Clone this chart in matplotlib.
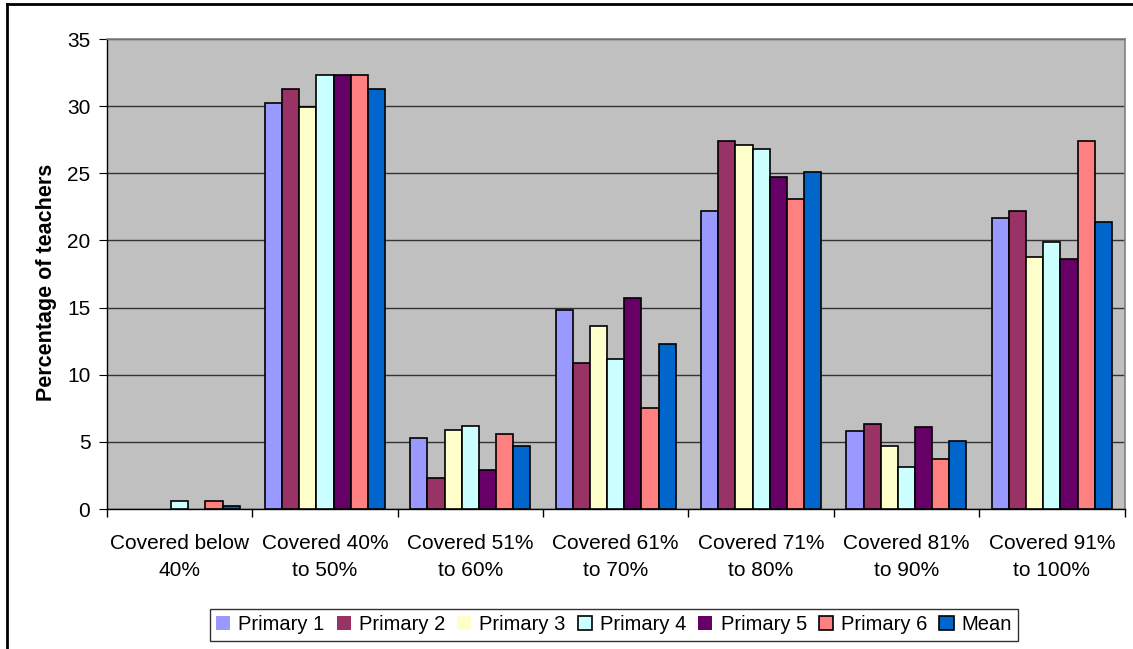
import numpy as np
import matplotlib.pyplot as plt
from matplotlib.lines import Line2D

plt.rcParams['font.family'] = ['Liberation Sans', 'DejaVu Sans']

categories = ["Covered below\n40%", "Covered 40%\nto 50%", "Covered 51%\nto 60%",
              "Covered 61%\nto 70%", "Covered 71%\nto 80%", "Covered 81%\nto 90%",
              "Covered 91%\nto 100%"]
series_names = ["Primary 1", "Primary 2", "Primary 3", "Primary 4", "Primary 5", "Primary 6", "Mean"]

primary1 = [0.0, 30.2, 5.3, 14.8, 22.2, 5.8, 21.7]
primary2 = [0.0, 31.3, 2.3, 10.9, 27.4, 6.3, 22.2]
primary3 = [0.0, 29.9, 5.9, 13.6, 27.1, 4.7, 18.8]
primary4 = [0.6, 32.3, 6.2, 11.2, 26.8, 3.1, 19.9]
primary5 = [0.0, 32.3, 2.9, 15.7, 24.7, 6.1, 18.6]
primary6 = [0.6, 32.3, 5.6, 7.5, 23.1, 3.7, 27.4]
mean = [0.25, 31.3, 4.7, 12.3, 25.1, 5.1, 21.4]

colors = ["#9999FF", "#993366", "#FFFFCC", "#CCFFFF", "#660066", "#FF8080", "#0066CC"]
all_series = [primary1, primary2, primary3, primary4, primary5, primary6, mean]

fig = plt.figure(figsize=(11.33, 6.49), dpi=100)
ax = fig.add_axes([0.0944, 0.2157, 0.9985 - 0.0944 - 0.006, 0.9399 - 0.2157])
ax.set_facecolor("#C0C0C0")

x = np.arange(len(categories))
width = 0.826 / len(all_series)
for i, (vals, col, name) in enumerate(zip(all_series, colors, series_names)):
    vals = np.array(vals)
    offs = (i - (len(all_series) - 1) / 2) * width
    # zero-height bars get no outline
    lw = np.where(vals > 0, 1.2, 0.0)
    ax.bar(x + offs, vals, width, color=col, edgecolor="black", linewidth=lw,
           label=name, zorder=3)

ax.set_xlim(-0.5, len(categories) - 0.5)
ax.set_ylim(0, 35)
ax.set_yticks(range(0, 36, 5))
ax.yaxis.grid(True, color="#333333", linewidth=1.0, zorder=0)
ax.set_axisbelow(True)

ax.set_xticks(x)
ax.set_xticklabels(categories, fontsize=15, linespacing=1.5)
ax.set_xticks(np.arange(-0.5, len(categories)), minor=True)
ax.tick_params(axis="x", which="major", length=0, pad=18)
ax.tick_params(axis="x", which="minor", length=6, direction="out", width=1)
ax.tick_params(axis="y", length=6, direction="out", labelsize=15, pad=6)

for side in ["top", "right"]:
    ax.spines[side].set_color("#808080")
    ax.spines[side].set_linewidth(1.2)
for side in ["left", "bottom"]:
    ax.spines[side].set_color("black")
    ax.spines[side].set_linewidth(1.0)

ax.set_ylabel("Percentage of teachers", fontsize=15.5, fontweight="bold")
ax.yaxis.set_label_coords(-0.049, 0.483)

leg = fig.legend(loc="center", bbox_to_anchor=(0.542, 0.037), ncol=7, fontsize=14.5,
                 frameon=True, fancybox=False, edgecolor="black", handlelength=0.7,
                 handleheight=0.7, handletextpad=0.4, columnspacing=0.6,
                 borderpad=0.3)
leg.get_frame().set_linewidth(1.0)

# outer chart frame (left and top edges)
fig.add_artist(Line2D([0.006, 0.006], [0, 0.994], color="black", linewidth=2,
                      transform=fig.transFigure))
fig.add_artist(Line2D([0.006, 1.0], [0.994, 0.994], color="black", linewidth=2,
                      transform=fig.transFigure))

fig.savefig("out.png", dpi=100)
